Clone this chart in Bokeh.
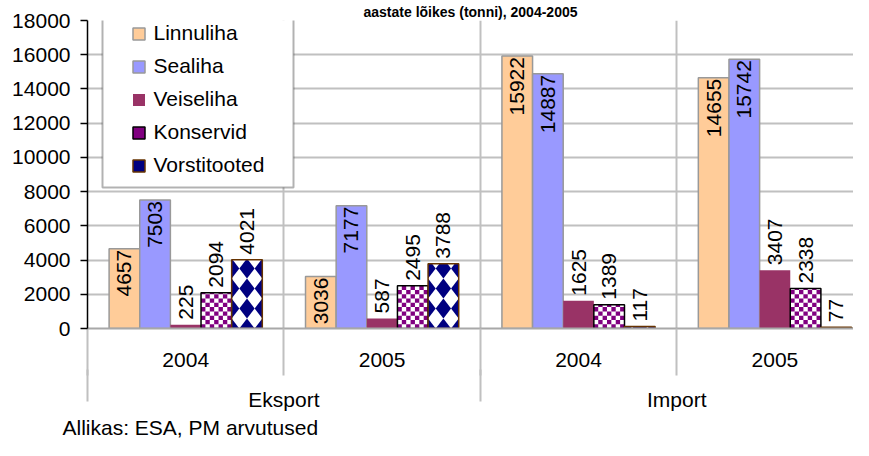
import math
import numpy as np
from bokeh.plotting import figure
from bokeh.models import (Range1d, LinearAxis, FixedTicker, Grid, Legend, LegendItem,
                          ColumnDataSource, BoxAnnotation, Title)
from bokeh.core.properties import value
from bokeh.embed import file_html
from bokeh.resources import INLINE

# ---------------- data ----------------
series = ["Linnuliha", "Sealiha", "Veiseliha", "Konservid", "Vorstitooted"]
groups = ["Eksport", "Import"]
years = ["2004", "2005", "2004", "2005"]
linnuliha = [4657, 3036, 15922, 14655]
sealiha = [7503, 7177, 14887, 15742]
veiseliha = [225, 587, 1625, 3407]
konservid = [2094, 2495, 1389, 2338]
vorstitooted = [4021, 3788, 117, 77]
y_ticks = list(range(0, 18001, 2000))
title_text = "aastate lõikes (tonni), 2004-2005"
source_note = "Allikas: ESA, PM arvutused"

# ---------------- style ----------------
FONT = "Liberation Sans"
FS = "21px"
GRID_C = "#C0C0C0"
BASE_C = "#A8A8A8"
BAR_W = 0.156
fills = ["#FFCC99", "#9999FF", "#993366", "#FFFFFF", "#FFFFFF"]
lines = ["#999999", "#999999", None, "#000000", "#663300"]
inside = [True, True, False, False, False]
CHECK_COLS = 7          # checker cells across a bar
CHECK_H = 250           # checker cell height (data units)
DIAMOND_Q = 1170        # diamond vertical period (data units)
PURPLE = "#800080"
NAVY = "#000080"


def clip_poly(pts, xmin, xmax, ymin, ymax):
    def clip(pts, ins, inter):
        out = []
        for k in range(len(pts)):
            cur, prev = pts[k], pts[k - 1]
            if ins(cur):
                if not ins(prev):
                    out.append(inter(prev, cur))
                out.append(cur)
            elif ins(prev):
                out.append(inter(prev, cur))
        return out

    def ix(a, b, x):
        t = (x - a[0]) / (b[0] - a[0])
        return (x, a[1] + t * (b[1] - a[1]))

    def iy(a, b, y):
        t = (y - a[1]) / (b[1] - a[1])
        return (a[0] + t * (b[0] - a[0]), y)

    rules = [(lambda q: q[0] >= xmin, lambda a, b: ix(a, b, xmin)),
             (lambda q: q[0] <= xmax, lambda a, b: ix(a, b, xmax)),
             (lambda q: q[1] >= ymin, lambda a, b: iy(a, b, ymin)),
             (lambda q: q[1] <= ymax, lambda a, b: iy(a, b, ymax))]
    for ins, inter in rules:
        pts = clip(pts, ins, inter)
        if not pts:
            return []
    return pts


def checker_cells(xs, vals):
    L, R, B, T = [], [], [], []
    cw = BAR_W / CHECK_COLS
    for xc, v in zip(xs, vals):
        xl = xc - BAR_W / 2
        for r in range(int(math.ceil(v / CHECK_H))):
            for c in range(CHECK_COLS):
                if (r + c) % 2 == 0:
                    L.append(xl + c * cw); R.append(xl + (c + 1) * cw)
                    B.append(r * CHECK_H); T.append(min((r + 1) * CHECK_H, v))
    return dict(left=L, right=R, bottom=B, top=T)


def diamond_cells(xs, vals):
    PX, PY = [], []
    P = BAR_W / 2
    Q = DIAMOND_Q
    for xc, v in zip(xs, vals):
        xl, xr = xc - BAR_W / 2, xc + BAR_W / 2
        for k in range(int(math.ceil(v / Q)) + 1):
            cy = k * Q
            for i in range(0, 3):
                cx = xl + i * P
                pts = [(cx - P / 2, cy), (cx, cy + Q / 2), (cx + P / 2, cy), (cx, cy - Q / 2)]
                cp = clip_poly(pts, xl, xr, 0, v)
                if len(cp) >= 3:
                    PX.append([q[0] for q in cp]); PY.append([q[1] for q in cp])
    return dict(xs=PX, ys=PY)


n = len(years)
p = figure(width=853, height=440, output_backend="svg", toolbar_location=None, title=None,
           x_range=Range1d(0, 3.9), y_range=Range1d(0, 18000),
           x_axis_location=None, y_axis_location=None,
           min_border_left=87, min_border_right=0, min_border_top=20, min_border_bottom=112)
p.outline_line_color = None
p.background_fill_color = "white"
p.border_fill_color = "white"
for g in p.grid:
    g.visible = False

p.add_layout(Grid(dimension=1, ticker=FixedTicker(ticks=y_ticks[1:]),
                  grid_line_color=GRID_C, grid_line_width=2))
p.add_layout(Grid(dimension=0, ticker=FixedTicker(ticks=list(range(1, n))),
                  grid_line_color=GRID_C, grid_line_width=2))

yaxis = LinearAxis(ticker=FixedTicker(ticks=y_ticks),
                   major_label_text_font=FONT, major_label_text_font_size=FS,
                   major_label_text_color="black", axis_line_color="black", axis_line_width=1.5,
                   major_tick_line_color="black", major_tick_line_width=1.5,
                   major_tick_out=7, major_tick_in=0, minor_tick_line_color=None,
                   major_label_standoff=10)
p.add_layout(yaxis, "left")

xaxis_years = LinearAxis(
    ticker=FixedTicker(ticks=[i + 0.5 for i in range(n)], minor_ticks=list(range(n))),
    major_label_overrides={i + 0.5: y for i, y in enumerate(years)},
    major_label_text_font=FONT, major_label_text_font_size=FS, major_label_text_color="black",
    major_tick_out=0, major_tick_in=0, major_tick_line_color=None,
    minor_tick_out=47, minor_tick_in=0, minor_tick_line_color=GRID_C, minor_tick_line_width=2,
    axis_line_color=BASE_C, axis_line_width=2, major_label_standoff=-23)
p.add_layout(xaxis_years, "below")

xaxis_groups = LinearAxis(
    ticker=FixedTicker(ticks=[1.0, 3.0], minor_ticks=[0.0, 2.0]),
    major_label_overrides={1.0: groups[0], 3.0: groups[1]},
    major_label_text_font=FONT, major_label_text_font_size=FS, major_label_text_color="black",
    major_tick_out=0, major_tick_in=0, major_tick_line_color=None,
    minor_tick_out=32, minor_tick_in=0, minor_tick_line_color=GRID_C, minor_tick_line_width=2,
    axis_line_color=None, major_label_standoff=-14)
p.add_layout(xaxis_groups, "below")

data = [linnuliha, sealiha, veiseliha, konservid, vorstitooted]
items = []
for i, (name, vals) in enumerate(zip(series, data)):
    xs = [g + 0.5 + (i - 2) * BAR_W for g in range(n)]
    src = ColumnDataSource(dict(x=xs, top=vals, label=[str(v) for v in vals]))
    if i < 3:
        r = p.vbar(x="x", top="top", bottom=0, width=BAR_W, source=src,
                   fill_color=fills[i], line_color=lines[i], line_width=1.5)
        rends = [r]
    else:
        p.vbar(x="x", top="top", bottom=0, width=BAR_W, source=src,
               fill_color="white", line_color=None)
        if i == 3:
            pr = p.quad(source=ColumnDataSource(checker_cells(xs, vals)),
                        left="left", right="right", bottom="bottom", top="top",
                        fill_color=PURPLE, line_color=None)
        else:
            pr = p.patches(xs="xs", ys="ys", source=ColumnDataSource(diamond_cells(xs, vals)),
                           fill_color=NAVY, line_color=None)
        ro = p.vbar(x="x", top="top", bottom=0, width=BAR_W, source=src,
                    fill_color=None, line_color=lines[i], line_width=1.5)
        rends = [pr, ro]
    items.append(LegendItem(label=name, renderers=rends))
    p.text(x="x", y="top", text="label", source=src, angle=np.pi / 2,
           text_align="right" if inside[i] else "left", text_baseline="middle",
           y_offset=1 if inside[i] else -5,
           text_font=value(FONT), text_font_size=FS, text_color="black")

box = BoxAnnotation(left=15, right=206, top=311, bottom=141,
                    left_units="screen", right_units="screen",
                    top_units="screen", bottom_units="screen",
                    fill_color="white", fill_alpha=1.0, line_color="black", line_width=2)
p.add_layout(box)

legend = Legend(items=items, location=(43.5, 151), orientation="vertical",
                border_line_color=None, background_fill_alpha=0, padding=0, margin=0,
                spacing=9, glyph_width=15, glyph_height=15, label_height=24, label_standoff=8,
                label_text_font=FONT, label_text_font_size=FS, label_text_color="black")
p.add_layout(legend, "center")

p.add_layout(Title(text=source_note, align="left", offset=-25, standoff=0,
                   text_font=FONT, text_font_size=FS, text_font_style="normal",
                   text_color="black"), "below")
p.add_layout(Title(text=title_text, align="center", offset=-27, standoff=2,
                   text_font=FONT, text_font_size="14px", text_font_style="bold",
                   text_color="black"), "above")

open("out.html", "w").write(file_html(p, INLINE))
